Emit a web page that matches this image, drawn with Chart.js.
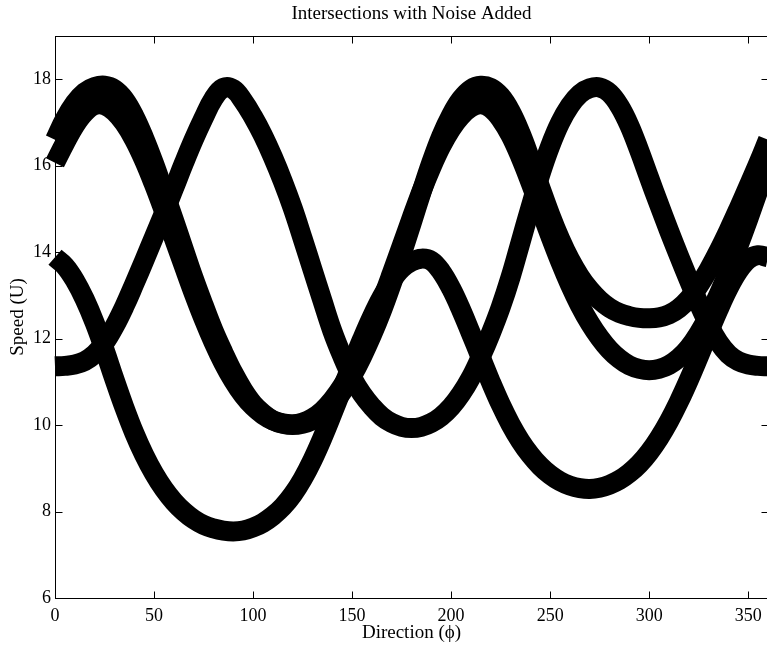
<!DOCTYPE html>
<html>
<head>
<meta charset="utf-8">
<title>Intersections with Noise Added</title>
<script src="https://cdn.jsdelivr.net/npm/chart.js@4.4.0/dist/chart.umd.min.js"></script>
<style>
  html, body { margin:0; padding:0; background:#fff; overflow:hidden; }
  #wrap { width:770px; height:645px; }
</style>
</head>
<body>
<div id="wrap"><canvas id="chartIntersect" width="770" height="645"></canvas></div>
<script>
// direction grid (deg), every 5 degrees
const direction = [0,5,10,15,20,25,30,35,40,45,50,55,60,65,70,75,80,85,90,95,100,105,110,115,120,125,130,135,140,145,150,155,160,165,170,175,180,
  185,190,195,200,205,210,215,220,225,230,235,240,245,250,255,260,265,270,275,280,285,290,295,300,305,310,315,320,325,330,335,340,345,350,355,360];

// speed curves U(phi)
const speedA = [13.88,13.68,13.35,12.91,12.37,11.74,11.06,10.41,9.82,9.31,8.88,8.52,8.23,8.0,7.82,7.69,7.61,7.56,7.54,7.56,7.63,7.74,7.9,8.11,8.39,8.75,9.19,9.7,10.26,10.84,11.42,11.98,12.5,12.96,13.34,13.62,13.78,
  13.85,13.8,13.55,13.16,12.67,12.12,11.56,11.0,10.48,10.02,9.63,9.31,9.05,8.85,8.7,8.6,8.54,8.52,8.55,8.62,8.73,8.89,9.1,9.37,9.7,10.09,10.54,11.04,11.58,12.13,12.67,13.16,13.56,13.83,13.93,13.88];
const speedB = [11.36,11.37,11.4,11.48,11.64,11.9,12.28,12.74,13.26,13.8,14.35,14.9,15.47,16.05,16.6,17.1,17.55,17.8,17.77,17.5,17.13,16.7,16.2,15.64,15.02,14.32,13.6,12.88,12.18,11.6,11.1,10.72,10.43,10.2,10.05,9.96,9.93,
  9.96,10.05,10.2,10.42,10.72,11.1,11.58,12.12,12.72,13.42,14.22,15.02,15.79,16.45,16.99,17.39,17.66,17.79,17.81,17.68,17.38,16.93,16.35,15.72,15.1,14.5,13.92,13.36,12.82,12.33,11.92,11.64,11.48,11.4,11.37,11.36];
const speedC = [16.6,17.08,17.45,17.7,17.82,17.85,17.77,17.54,17.15,16.64,16.05,15.4,14.75,14.07,13.4,12.78,12.19,11.68,11.21,10.81,10.49,10.27,10.11,10.03,10.0,10.03,10.11,10.26,10.48,10.77,11.14,11.58,12.08,12.64,13.27,13.95,14.66,
  15.38,16.07,16.68,17.17,17.54,17.77,17.85,17.8,17.61,17.26,16.76,16.15,15.5,14.87,14.31,13.83,13.44,13.13,12.89,12.71,12.59,12.52,12.48,12.47,12.49,12.56,12.7,12.92,13.22,13.59,14.02,14.49,14.99,15.51,16.04,16.6];
const speedD = [16.07,16.52,16.93,17.23,17.4,17.4,17.25,16.98,16.6,16.12,15.56,14.95,14.32,13.68,13.05,12.46,11.92,11.44,11.03,10.69,10.43,10.24,10.11,10.04,10.02,10.06,10.16,10.33,10.58,10.9,11.3,11.77,12.3,12.88,13.5,14.14,14.78,
  15.4,15.96,16.45,16.85,17.15,17.35,17.42,17.33,17.08,16.7,16.2,15.62,15.0,14.38,13.79,13.25,12.77,12.36,12.02,11.74,11.53,11.38,11.3,11.27,11.3,11.39,11.55,11.79,12.12,12.53,13.01,13.55,14.14,14.76,15.41,16.07];

const xTicks = [0,50,100,150,200,250,300,350];
const yTicks = [6,8,10,12,14,16,18];

const FONT = "'Liberation Serif', 'Times New Roman', serif";
const TICK_FS = 18;
const LABEL_FS = 19;

function series(vals){
  return {
    data: direction.map((d,i)=>({x:d, y:vals[i]})),
    borderColor: "#000",
    borderWidth: 20,
    borderCapStyle: "butt",
    borderJoinStyle: "round",
    pointRadius: 0,
    tension: 0.4,
    clip: false,
    fill: false
  };
}

// frame box with inward tick marks on all four sides
const boxTicks = {
  id: "boxTicks",
  afterDraw(chart){
    const {ctx, chartArea:a, scales:{x, y}} = chart;
    const L = Math.round(a.left)+0.5, R = Math.round(a.right)+0.5;
    const T = Math.round(a.top)+0.5, B = Math.round(a.bottom)+0.5;
    ctx.save();
    ctx.strokeStyle = "#000";
    ctx.lineWidth = 1;
    ctx.strokeRect(L, T, R-L, B-T);
    ctx.beginPath();
    xTicks.forEach(v=>{
      const px = Math.round(x.getPixelForValue(v))+0.5;
      ctx.moveTo(px, B); ctx.lineTo(px, B-7);
      ctx.moveTo(px, T); ctx.lineTo(px, T+7);
    });
    yTicks.forEach(v=>{
      const py = Math.round(y.getPixelForValue(v))+0.5;
      ctx.moveTo(L, py); ctx.lineTo(L+7, py);
      ctx.moveTo(R, py); ctx.lineTo(R-7, py);
    });
    ctx.stroke();
    ctx.restore();
  }
};

new Chart(document.getElementById("chartIntersect"), {
  type: "line",
  data: { datasets: [series(speedA), series(speedB), series(speedC), series(speedD)] },
  options: {
    responsive: false,
    animation: false,
    layout: { padding: { left:0, right:2, top:0, bottom:0 } },
    plugins: {
      legend: { display:false },
      tooltip: { enabled:false },
      title: {
        display: true,
        fullSize: false,
        text: "Intersections with Noise Added",
        color: "#000",
        font: { family: FONT, size: LABEL_FS, weight: "normal" },
        padding: { top: 3, bottom: 10.2 }
      }
    },
    scales: {
      x: {
        type: "linear", min: 0, max: 360,
        afterFit: s => { s.height = 47; },
        afterBuildTicks: s => { s.ticks = xTicks.map(v=>({value:v})); },
        grid: { display:false, drawTicks:false },
        border: { display:false },
        ticks: { color:"#000", padding: 7, maxRotation:0, autoSkip:false, font:{ family:FONT, size:TICK_FS } },
        title: { display:true, text:"Direction (\u03D5)", color:"#000", padding:{top:0,bottom:1}, font:{ family:FONT, size:LABEL_FS } }
      },
      y: {
        type: "linear", min: 6, max: 19,
        afterFit: s => { s.width = 55; },
        afterBuildTicks: s => { s.ticks = yTicks.map(v=>({value:v})); },
        grid: { display:false, drawTicks:false },
        border: { display:false },
        ticks: { color:"#000", padding: 4, font:{ family:FONT, size:TICK_FS } },
        title: { display:true, text:"Speed (U)", color:"#000", padding:{top:7,bottom:0}, font:{ family:FONT, size:LABEL_FS } }
      }
    }
  },
  plugins: [boxTicks]
});
</script>
</body>
</html>
